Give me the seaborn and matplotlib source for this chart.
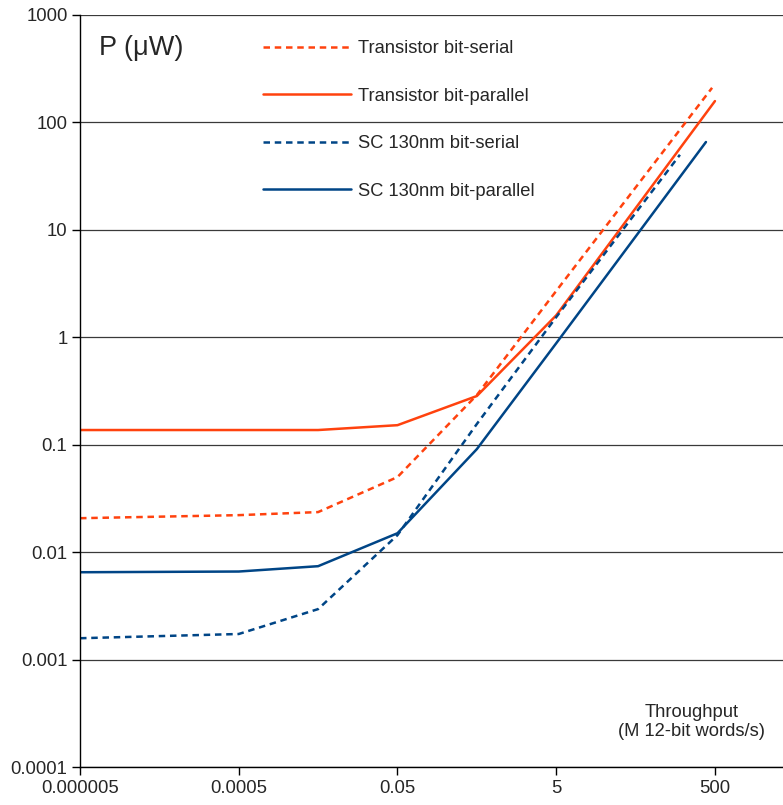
import matplotlib
matplotlib.use("Agg")
import matplotlib.pyplot as plt
import seaborn as sns
import pandas as pd

# ---- data ----
x_tr_serial = [5e-6, 5e-4, 5e-3, 0.05, 0.5, 5, 460]
y_tr_serial = [0.0207, 0.0221, 0.0236, 0.050, 0.29, 2.7, 210]

x_tr_parallel = [5e-6, 5e-4, 5e-3, 0.05, 0.5, 5, 500]
y_tr_parallel = [0.137, 0.137, 0.137, 0.152, 0.284, 1.6, 158]

x_sc_serial = [5e-6, 5e-4, 5e-3, 0.05, 0.5, 5, 181]
y_sc_serial = [0.00158, 0.00173, 0.00295, 0.0144, 0.156, 1.54, 50]

x_sc_parallel = [5e-6, 5e-4, 5e-3, 0.05, 0.5, 5, 385]
y_sc_parallel = [0.0065, 0.0066, 0.0074, 0.015, 0.091, 0.88, 65.7]

series_names = ["Transistor bit-serial", "Transistor bit-parallel",
                "SC 130nm bit-serial", "SC 130nm bit-parallel"]

x_ticks = [5e-6, 5e-4, 0.05, 5, 500]
x_tick_labels = ["0.000005", "0.0005", "0.05", "5", "500"]
y_ticks = [1e-4, 1e-3, 1e-2, 1e-1, 1, 10, 100, 1000]
y_tick_labels = ["0.0001", "0.001", "0.01", "0.1", "1", "10", "100", "1000"]

# ---- styling ----
ORANGE = "#ff420e"
BLUE = "#004586"
styles = {
    "Transistor bit-serial": (ORANGE, (0, (2.6, 1.9))),
    "Transistor bit-parallel": (ORANGE, "-"),
    "SC 130nm bit-serial": (BLUE, (0, (2.6, 1.9))),
    "SC 130nm bit-parallel": (BLUE, "-"),
}

sns.set_style("white")
plt.rcParams["font.family"] = ["Liberation Sans", "DejaVu Sans"]

fig = plt.figure(figsize=(7.83, 8.05), dpi=100)
ax = fig.add_axes([80 / 783, 1 - 767 / 805, 1 - 80 / 783, (767 - 15) / 805])

data = {
    "Transistor bit-serial": (x_tr_serial, y_tr_serial),
    "Transistor bit-parallel": (x_tr_parallel, y_tr_parallel),
    "SC 130nm bit-serial": (x_sc_serial, y_sc_serial),
    "SC 130nm bit-parallel": (x_sc_parallel, y_sc_parallel),
}

for name in series_names:
    xs, ys = data[name]
    df = pd.DataFrame({"x": xs, "y": ys})
    color, ls = styles[name]
    sns.lineplot(data=df, x="x", y="y", ax=ax, color=color, linestyle=ls,
                 linewidth=1.8, label=name, sort=False, estimator=None)

ax.set_xscale("log")
ax.set_yscale("log")
ax.set_xlim(5e-6, 3600)
ax.set_ylim(1e-4, 1000)

ax.set_xticks(x_ticks)
ax.set_xticklabels(x_tick_labels)
ax.set_yticks(y_ticks)
ax.set_yticklabels(y_tick_labels)
ax.minorticks_off()
ax.tick_params(axis="both", which="major", direction="out", length=6, width=1,
               color="black", labelsize=13.3, pad=3, left=True, bottom=True)

ax.grid(True, axis="y", color="#3a3a3a", linewidth=0.9)
ax.grid(False, axis="x")
ax.set_axisbelow(True)
for side in ["top", "right"]:
    ax.spines[side].set_visible(False)
for side in ["left", "bottom"]:
    ax.spines[side].set_color("black")
    ax.spines[side].set_linewidth(1.0)
ax.set_xlabel("")
ax.set_ylabel("")

leg = ax.legend(loc="upper left", bbox_to_anchor=(263 / 783, 1 - 40 / 805),
                bbox_transform=fig.transFigure, frameon=False, fontsize=13.2,
                handlelength=4.8, handletextpad=0.4, labelspacing=1.67,
                borderpad=0, borderaxespad=0)

fig.text(99 / 783, 1 - 48 / 805, "P (μW)", fontsize=19.5, ha="left", va="center")
fig.text(692 / 783, 1 - 722 / 805, "Throughput\n(M 12-bit words/s)", fontsize=13.2,
         ha="center", va="center", multialignment="center", linespacing=1.2)

fig.savefig("out.png", dpi=100)
